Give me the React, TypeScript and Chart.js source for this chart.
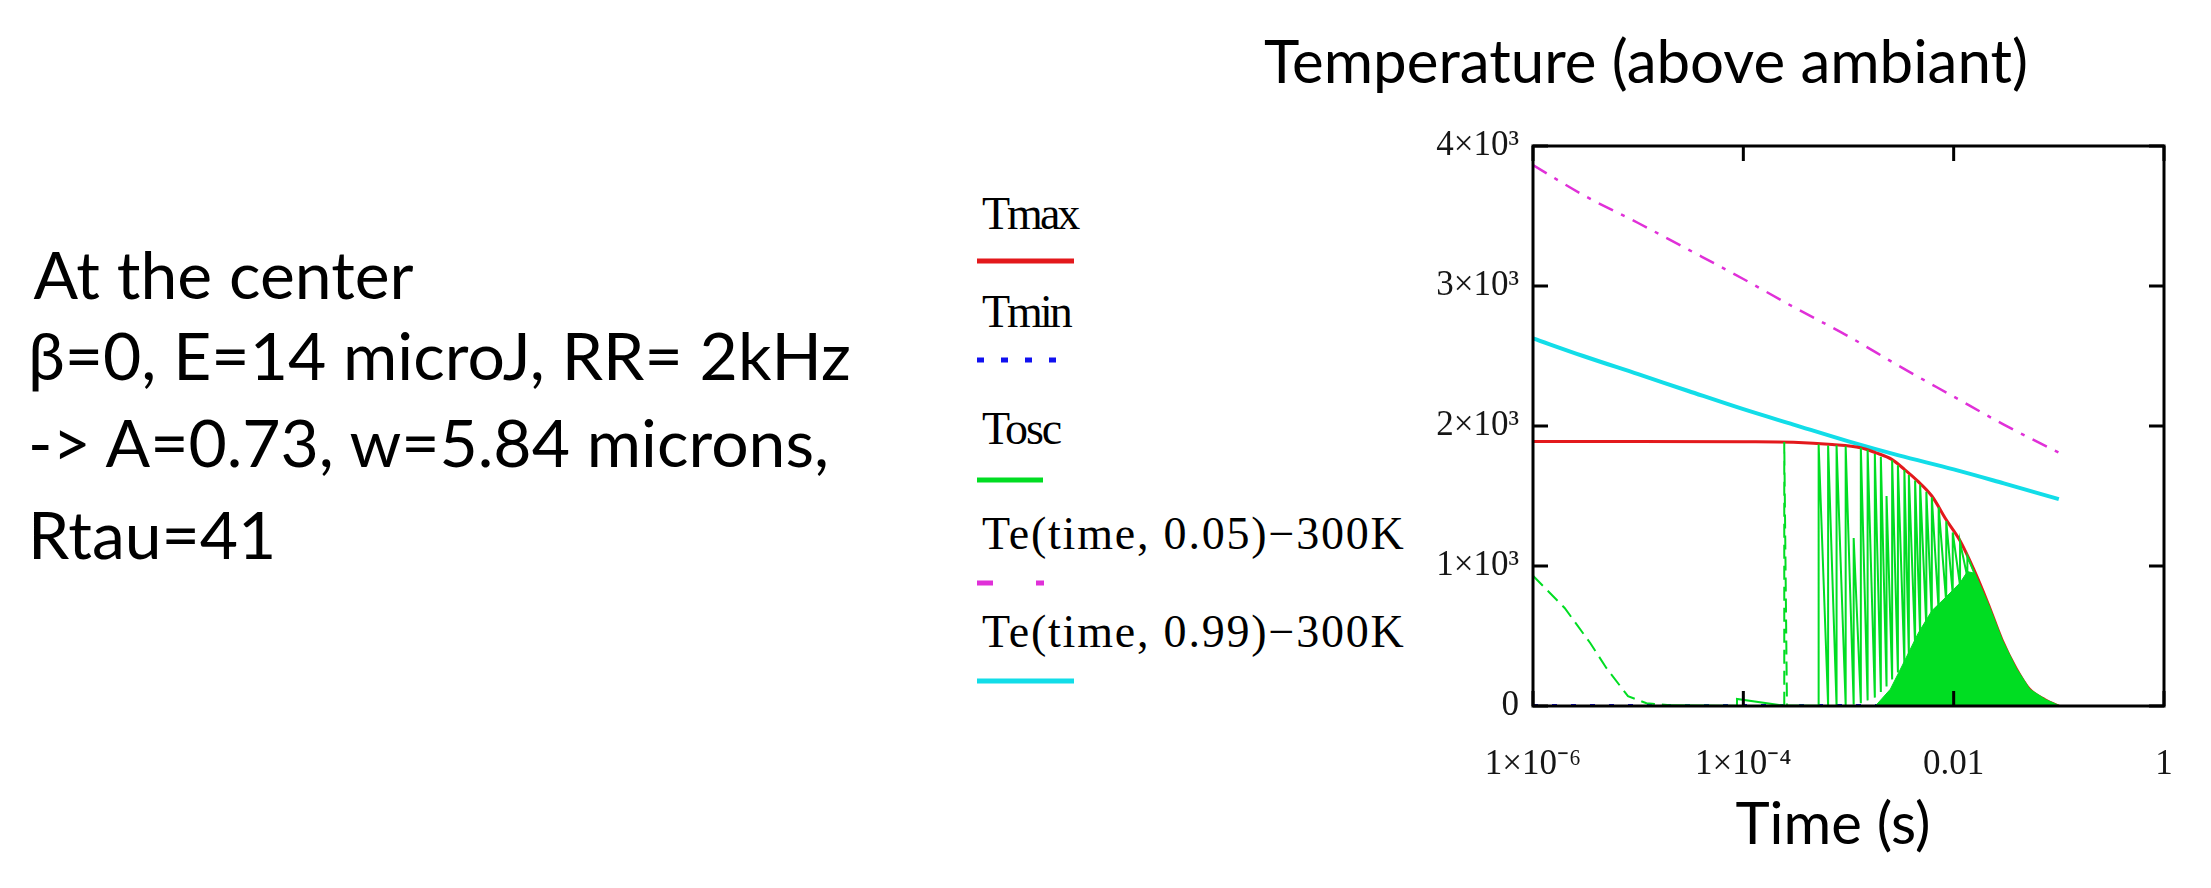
import { useEffect, useRef } from "react";
import { Chart, registerables } from "chart.js";
Chart.register(...registerables);

// ---------- tick labels ----------
const xTickValues = [1e-6, 1e-4, 1e-2, 1];
const xTickLabels = ["1×10⁻⁶", "1×10⁻⁴", "0.01", "1"];
const yTickValues = [0, 1000, 2000, 3000, 4000];
const yTickLabels = ["0", "1×10³", "2×10³", "3×10³", "4×10³"];

// ---------- Te(time,0.05)-300K ----------
const te05Times = [1e-6, 3e-6, 1e-5, 3e-5, 1e-4, 3e-4, 1e-3, 3e-3, 1e-2, 3e-2, 0.1];
const te05Values = [3864, 3650, 3450, 3260, 3050, 2850, 2640, 2430, 2210, 2010, 1810];

// ---------- Te(time,0.99)-300K ----------
const te99Times = [1e-6, 3e-6, 1e-5, 3e-5, 1e-4, 3e-4, 1e-3, 3e-3, 1e-2, 3e-2, 0.1];
const te99Values = [2626, 2500, 2370, 2250, 2120, 2010, 1890, 1790, 1690, 1590, 1478];

// ---------- Tmax ----------
const tmaxTimes = [1e-6, 1e-5, 1e-4, 3e-4, 7e-4, 1.3e-3, 1.8e-3, 2.6e-3, 3.4e-3, 4.5e-3, 6.2e-3, 8.5e-3, 0.0115, 0.0155, 0.0214, 0.0288, 0.039, 0.0525, 0.074, 0.1];
const tmaxValues = [1890, 1890, 1888, 1884, 1868, 1845, 1810, 1760, 1690, 1610, 1500, 1330, 1180, 977, 725, 473, 272, 121, 45, 0];

// ---------- Tmin ----------
const tminTimes = [1e-6, 1e-4, 1e-2, 0.1];
const tminValues = [3, 3, 3, 3];

// ---------- Tosc ----------
const oscDecayTimes = [1e-6, 2e-6, 3.5e-6, 5e-6, 8e-6, 1.2e-5, 2e-5];
const oscDecayValues = [930, 700, 450, 270, 70, 20, 5];
const oscLowTimes = [4e-5, 7e-5];
const oscLowValues = [3, 2];
const spikeTimes = [8.7e-5, 2.45e-4, 2.6e-4, 5.2e-4, 6.4e-4, 7.7e-4, 9.4e-4, 1.12e-3, 1.31e-3, 1.52e-3, 1.78e-3, 2.03e-3, 2.3e-3, 2.6e-3, 2.95e-3, 3.4e-3, 3.75e-3, 4.3e-3, 4.8e-3, 5.5e-3, 6.2e-3, 7.2e-3, 8.5e-3, 9.8e-3, 0.0115, 0.0135];
const spikePeaks = [50, 1885, 4, 1870, 1860, 1862, 1855, 1200, 1845, 1830, 1800, 1780, 1500, 1755, 1720, 1685, 1650, 1610, 1580, 1530, 1490, 1420, 1320, 1240, 1170, 1070];
const spikeBases = [2, 2, 2, 2, 2, 2, 4, 10, 20, 40, 60, 100, 140, 190, 240, 300, 360, 430, 500, 560, 620, 680, 740, 800, 860, 920];
const oscTailTimes = [0.0155, 0.0214, 0.0288, 0.039, 0.0525, 0.074, 0.1];
const oscTailValues = [960, 718, 468, 268, 118, 44, 0];

// dense oscillation band (rendered as solid green)
const bandTimes = [1.8e-3, 2.5e-3, 3.3e-3, 4.6e-3, 6.2e-3, 8.5e-3, 0.0115, 0.0135, 0.0155, 0.0214, 0.0288, 0.039, 0.0525, 0.074, 0.1];
const bandValues = [0, 120, 300, 520, 680, 780, 880, 960, 950, 718, 468, 268, 118, 44, 0];

const pts = (xs: number[], ys: number[]) => xs.map((x, i) => ({ x, y: ys[i] }));

function buildTosc() {
  const data: { x: number; y: number }[] = [];
  const dashed = new Set<number>();
  oscDecayTimes.forEach((t, i) => {
    if (i < oscDecayTimes.length - 1) dashed.add(data.length);
    data.push({ x: t, y: oscDecayValues[i] });
  });
  oscLowTimes.forEach((t, i) => data.push({ x: t, y: oscLowValues[i] }));
  spikeTimes.forEach((t, i) => {
    if (i === 1) {
      dashed.add(data.length);
      dashed.add(data.length + 1);
    }
    data.push({ x: t, y: spikeBases[i] });
    data.push({ x: t, y: spikePeaks[i] });
  });
  oscTailTimes.forEach((t, i) => data.push({ x: t, y: oscTailValues[i] }));
  return { data, dashed };
}

const RED = "#e3191c";
const BLUE = "#1010f0";
const GREEN = "#00dd22";
const MAGENTA = "#e030d8";
const CYAN = "#12dde8";

const framePlugin = {
  id: "mathcadFrame",
  afterDatasetsDraw(chart: any) {
    const { ctx, chartArea: a, scales } = chart;
    ctx.save();
    ctx.strokeStyle = "#000";
    ctx.lineWidth = 3;
    ctx.strokeRect(a.left, a.top, a.right - a.left, a.bottom - a.top);
    yTickValues.forEach((v) => {
      const y = scales.y.getPixelForValue(v);
      ctx.beginPath();
      ctx.moveTo(a.left, y);
      ctx.lineTo(a.left + 15, y);
      ctx.moveTo(a.right, y);
      ctx.lineTo(a.right - 15, y);
      ctx.stroke();
    });
    xTickValues.forEach((v) => {
      const x = scales.x.getPixelForValue(v);
      ctx.beginPath();
      ctx.moveTo(x, a.bottom);
      ctx.lineTo(x, a.bottom - 15);
      ctx.moveTo(x, a.top);
      ctx.lineTo(x, a.top + 15);
      ctx.stroke();
    });
    ctx.restore();
  },
};

const PLOT_LEFT = 1533;
const PLOT_RIGHT = 2164;
const PLOT_TOP = 146;
const PLOT_BOTTOM = 706;
const Y_AXIS_W = 120;
const X_AXIS_H = 90;

function PlotChart() {
  const ref = useRef<HTMLCanvasElement | null>(null);
  useEffect(() => {
    if (!ref.current) return;
    const osc = buildTosc();
    const chart = new Chart(ref.current, {
      type: "line",
      data: {
        datasets: [
          {
            label: "Tosc band",
            data: pts(bandTimes, bandValues),
            borderColor: GREEN,
            backgroundColor: GREEN,
            borderWidth: 1,
            fill: "origin",
            pointRadius: 0,
            tension: 0,
          },
          {
            label: "Tosc",
            data: osc.data,
            borderColor: GREEN,
            borderWidth: 2,
            pointRadius: 0,
            tension: 0,
            segment: {
              borderDash: (c: any) => (osc.dashed.has(c.p0DataIndex) ? [14, 7] : undefined),
            },
          },
          {
            label: "Tmin",
            data: pts(tminTimes, tminValues),
            borderColor: BLUE,
            borderWidth: 3,
            borderDash: [5, 14],
            pointRadius: 0,
          },
          {
            label: "Tmax",
            data: pts(tmaxTimes, tmaxValues),
            borderColor: RED,
            borderWidth: 3,
            pointRadius: 0,
            cubicInterpolationMode: "monotone",
          },
          {
            label: "Te(time, 0.05)−300K",
            data: pts(te05Times, te05Values),
            borderColor: MAGENTA,
            borderWidth: 2.5,
            borderDash: [16, 9, 4, 9],
            pointRadius: 0,
            cubicInterpolationMode: "monotone",
          },
          {
            label: "Te(time, 0.99)−300K",
            data: pts(te99Times, te99Values),
            borderColor: CYAN,
            borderWidth: 4,
            pointRadius: 0,
            cubicInterpolationMode: "monotone",
          },
        ],
      },
      options: {
        animation: false,
        responsive: false,
        devicePixelRatio: 1,
        layout: {
          padding: {
            left: PLOT_LEFT - Y_AXIS_W,
            right: 2211 - PLOT_RIGHT,
            top: PLOT_TOP,
            bottom: 888 - PLOT_BOTTOM - X_AXIS_H,
          },
        },
        plugins: { legend: { display: false }, tooltip: { enabled: false }, title: { display: false } },
        scales: {
          x: {
            type: "logarithmic",
            min: 1e-6,
            max: 1,
            afterBuildTicks: (s: any) => {
              s.ticks = xTickValues.map((v) => ({ value: v }));
            },
            afterFit: (s: any) => {
              s.height = X_AXIS_H;
            },
            ticks: {
              callback: (_v: any, i: number) => xTickLabels[i],
              autoSkip: false,
              maxRotation: 0,
              padding: 30,
              color: "#161616",
              font: { family: "'Liberation Serif', serif", size: 35 },
            },
            grid: { display: false },
            border: { display: false },
          },
          y: {
            type: "linear",
            min: 0,
            max: 4000,
            afterBuildTicks: (s: any) => {
              s.ticks = yTickValues.map((v) => ({ value: v }));
            },
            afterFit: (s: any) => {
              s.width = Y_AXIS_W;
            },
            ticks: {
              callback: (_v: any, i: number) => yTickLabels[i],
              padding: 6,
              color: "#161616",
              font: { family: "'Liberation Serif', serif", size: 35 },
            },
            grid: { display: false },
            border: { display: false },
          },
        },
      },
      plugins: [framePlugin],
    });
    return () => chart.destroy();
  }, []);
  return (
    <canvas
      ref={ref}
      width={2211}
      height={888}
      style={{ position: "absolute", left: 0, top: 0, width: 2211, height: 888 }}
    />
  );
}

const sans = "Lato, 'Open Sans', sans-serif";
const serif = "'Liberation Serif', 'Times New Roman', serif";

function TextAt(props: { x: number; base: number; size: number; family: string; children: any; center?: boolean; spacing?: number }) {
  const { x, base, size, family, children, center, spacing } = props;
  return (
    <div
      style={{
        position: "absolute",
        left: x,
        top: base - size * 0.9,
        fontFamily: family,
        fontSize: size,
        lineHeight: `${size}px`,
        whiteSpace: "pre",
        color: "#000",
        letterSpacing: spacing ? `${spacing}px` : undefined,
        transform: center ? "translateX(-50%)" : undefined,
      }}
    >
      {children}
    </div>
  );
}

function LegendLine(props: { y: number; x1: number; x2: number; color: string; dash?: string }) {
  const { y, x1, x2, color, dash } = props;
  return (
    <svg style={{ position: "absolute", left: 0, top: 0 }} width={2211} height={888}>
      <line x1={x1} x2={x2} y1={y} y2={y} stroke={color} strokeWidth={5} strokeDasharray={dash} />
    </svg>
  );
}

const legendNames = ["Tmax", "Tmin", "Tosc", "Te(time, 0.05)−300K", "Te(time, 0.99)−300K"];
const legendBaselines = [232, 330, 447, 552, 650];
const legendSpacing = [-3, -3, -2, 1.8, 1.8];
const legendLineY = [261, 360, 480, 583, 681];

export default function App() {
  return (
    <div style={{ position: "absolute", left: 0, top: 0, width: 2211, height: 888, overflow: "hidden", background: "#fff" }}>
      <TextAt x={2} base={300} size={66} family={sans}>{"  At the center"}</TextAt>
      <TextAt x={28} base={381} size={66} family={sans}>{"β=0, E=14 microJ, RR= 2kHz"}</TextAt>
      <TextAt x={28} base={468} size={66} family={sans}>{"-> A=0.73, w=5.84 microns,"}</TextAt>
      <TextAt x={28} base={560} size={66} family={sans}>{"Rtau=41"}</TextAt>

      <TextAt x={1646} base={84} size={60} family={sans} center>{"Temperature (above ambiant)"}</TextAt>
      <TextAt x={1833} base={845} size={58} family={sans} center>{"Time (s)"}</TextAt>

      {legendNames.map((n, i) => (
        <TextAt key={n} x={982} base={legendBaselines[i]} size={46} family={serif} spacing={legendSpacing[i]}>{n}</TextAt>
      ))}
      <LegendLine y={legendLineY[0]} x1={977} x2={1074} color={RED} />
      <LegendLine y={legendLineY[1]} x1={977} x2={1058} color={BLUE} dash="7 17" />
      <LegendLine y={legendLineY[2]} x1={977} x2={1043} color={GREEN} />
      <LegendLine y={legendLineY[3]} x1={977} x2={1046} color={MAGENTA} dash="16 43 8 60" />
      <LegendLine y={legendLineY[4]} x1={977} x2={1074} color={CYAN} />

      <PlotChart />
    </div>
  );
}
